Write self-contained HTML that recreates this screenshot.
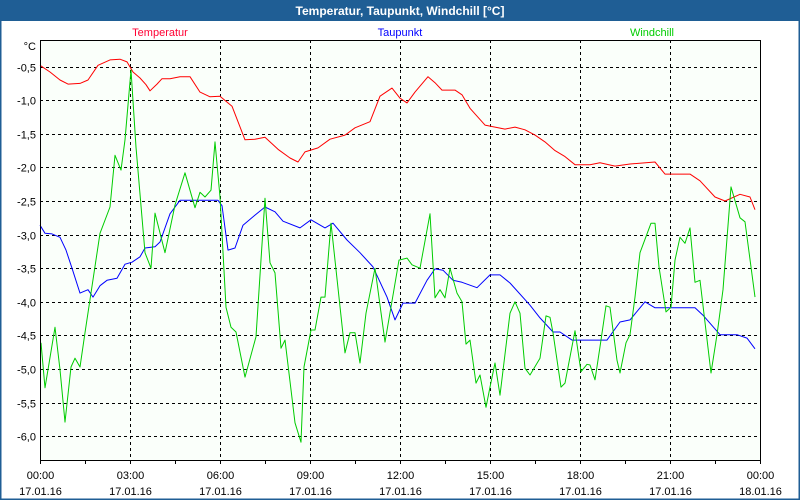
<!DOCTYPE html>
<html><head><meta charset="utf-8"><style>
html,body{margin:0;padding:0;background:#fff;}
#wrap{position:relative;width:800px;height:500px;overflow:hidden;font-family:"Liberation Sans",sans-serif;}
svg text{font-family:"Liberation Sans",sans-serif;}
</style></head><body>
<div id="wrap">
<svg id="chart" width="800" height="500" xmlns="http://www.w3.org/2000/svg">
<rect x="0" y="0" width="800" height="500" fill="#ffffff"/>
<rect x="0.5" y="0.5" width="799" height="499" fill="none" stroke="#1f5e95" stroke-width="2"/>
<rect x="0" y="0" width="800" height="21" fill="#1f5e95"/>
<text x="400" y="15" text-anchor="middle" font-size="12" font-weight="bold" fill="#ffffff">Temperatur, Taupunkt, Windchill [°C]</text>
<rect x="40" y="40" width="720" height="420" fill="#fafffa"/>
<g id="grid"></g>
<g id="series"></g>
<rect x="40.5" y="40.5" width="720" height="420" fill="none" stroke="#000" stroke-width="1"/>
<g id="axes"></g>
<text x="160" y="36" text-anchor="middle" font-size="11" fill="#ff0033">Temperatur</text>
<text x="400" y="36" text-anchor="middle" font-size="11" fill="#0000ff">Taupunkt</text>
<text x="652" y="36" text-anchor="middle" font-size="11" fill="#00cc00">Windchill</text>
<text x="36" y="50" text-anchor="end" font-size="11" fill="#000">°C</text>
</svg>
</div>
<script>
const yTicks = [-0.5,-1.0,-1.5,-2.0,-2.5,-3.0,-3.5,-4.0,-4.5,-5.0,-5.5,-6.0];
const yTickLabels = ["-0,5","-1,0","-1,5","-2,0","-2,5","-3,0","-3,5","-4,0","-4,5","-5,0","-5,5","-6,0"];
const xTicks = [0,180,360,540,720,900,1080,1260,1440];
const xTimeLabels = ["00:00","03:00","06:00","09:00","12:00","15:00","18:00","21:00","00:00"];
const xDateLabels = ["17.01.16","17.01.16","17.01.16","17.01.16","17.01.16","17.01.16","17.01.16","17.01.16","18.01.16"];
const tempMin = [0,20,40,56,80,96,116,140,160,174,186,200,212,220,234,244,260,280,300,320,340,360,384,410,430,450,476,500,516,530,556,580,610,630,660,680,704,720,734,750,776,790,804,830,844,860,890,910,930,950,970,990,1010,1030,1050,1070,1100,1120,1150,1180,1230,1250,1280,1300,1320,1350,1370,1400,1420,1430];
const tempVal = [-0.48,-0.58,-0.70,-0.76,-0.75,-0.70,-0.48,-0.40,-0.39,-0.43,-0.58,-0.67,-0.77,-0.86,-0.76,-0.68,-0.68,-0.65,-0.65,-0.88,-0.95,-0.94,-1.09,-1.59,-1.58,-1.55,-1.73,-1.86,-1.92,-1.77,-1.71,-1.58,-1.52,-1.41,-1.32,-0.94,-0.82,-0.97,-1.04,-0.88,-0.65,-0.74,-0.85,-0.85,-0.92,-1.12,-1.37,-1.40,-1.43,-1.40,-1.44,-1.52,-1.62,-1.75,-1.84,-1.96,-1.96,-1.93,-1.98,-1.95,-1.92,-2.10,-2.10,-2.10,-2.20,-2.44,-2.50,-2.40,-2.44,-2.63];
const dewMin = [0,10,24,40,52,64,80,96,106,120,134,154,170,184,200,210,230,240,260,280,310,356,364,376,390,406,430,450,470,486,520,542,570,586,614,640,666,694,710,726,750,774,790,806,826,844,874,900,920,940,980,1000,1026,1040,1064,1134,1160,1180,1210,1230,1310,1326,1360,1394,1414,1430];
const dewVal = [-2.86,-2.98,-2.99,-3.04,-3.23,-3.50,-3.87,-3.82,-3.93,-3.76,-3.68,-3.65,-3.44,-3.41,-3.33,-3.20,-3.18,-3.11,-2.69,-2.49,-2.49,-2.49,-2.57,-3.23,-3.20,-2.86,-2.71,-2.59,-2.66,-2.80,-2.90,-2.78,-2.90,-2.83,-3.08,-3.27,-3.48,-3.93,-4.27,-4.02,-4.02,-3.68,-3.51,-3.53,-3.68,-3.71,-3.79,-3.60,-3.60,-3.72,-4.05,-4.24,-4.45,-4.45,-4.57,-4.57,-4.30,-4.27,-4.00,-4.09,-4.09,-4.20,-4.49,-4.49,-4.54,-4.70];
const chillMin = [2,10,30,40,50,62,70,80,90,120,140,150,162,170,182,192,210,222,230,250,270,290,310,320,330,342,350,360,372,382,392,410,432,450,460,470,482,490,510,522,528,542,550,562,570,582,610,620,630,640,652,670,690,718,734,744,760,780,790,800,810,820,834,844,852,860,872,880,892,900,910,920,940,950,960,970,980,1000,1012,1020,1026,1042,1050,1070,1082,1094,1100,1110,1120,1132,1140,1154,1160,1172,1180,1190,1200,1222,1230,1238,1252,1262,1270,1280,1290,1300,1310,1320,1342,1354,1366,1382,1400,1410,1430];
const chillVal = [-4.61,-5.28,-4.38,-5.01,-5.79,-4.97,-4.84,-4.97,-4.46,-2.98,-2.59,-1.82,-2.04,-1.59,-0.55,-1.70,-3.27,-3.50,-2.68,-3.27,-2.56,-2.08,-2.60,-2.37,-2.44,-2.34,-1.62,-2.44,-4.08,-4.38,-4.45,-5.12,-4.52,-2.46,-3.42,-3.57,-4.69,-4.57,-5.80,-6.09,-4.97,-4.42,-4.42,-3.93,-3.93,-2.83,-4.76,-4.46,-4.46,-4.91,-4.17,-3.50,-4.60,-3.38,-3.35,-3.45,-3.50,-2.69,-3.94,-3.82,-3.94,-3.50,-3.87,-4.00,-4.63,-4.57,-5.21,-5.09,-5.57,-5.27,-4.91,-5.39,-4.17,-4.00,-4.17,-4.99,-5.09,-4.84,-4.21,-4.23,-4.46,-5.27,-5.21,-4.43,-5.04,-4.93,-4.94,-5.16,-4.67,-4.06,-4.08,-4.87,-5.06,-4.61,-4.49,-3.93,-3.27,-2.83,-2.83,-3.48,-4.15,-4.08,-3.38,-3.04,-3.13,-2.90,-3.71,-3.68,-5.06,-4.49,-3.82,-2.29,-2.75,-2.81,-3.93];

const NS = "http://www.w3.org/2000/svg";
const X0 = 40, X1 = 760, PT = 40, PB = 460;
function xScale(m){ return X0 + (m/1440)*(X1-X0); }
function yScale(v){ return 33 - v*67.2; }
function mk(tag, attrs, parent){ const e=document.createElementNS(NS,tag); for(const k in attrs) e.setAttribute(k,attrs[k]); parent.appendChild(e); return e; }

const grid = document.getElementById('grid');
const axes = document.getElementById('axes');
yTicks.forEach((v,i)=>{
  const y = Math.round(yScale(v))+0.5;
  const l = mk('line',{x1:X0,x2:X1,y1:y,y2:y,stroke:'#000','stroke-width':1,'stroke-dasharray':'3,3'},grid);
  
  
  const t = mk('text',{x:36,y:y+4,'text-anchor':'end','font-size':11,fill:'#000'},axes);
  t.textContent = yTickLabels[i];
  
  
});
xTicks.forEach((m,i)=>{
  const x = Math.round(xScale(m))+0.5;
  if(i>0 && i<xTicks.length-1){
    const l = mk('line',{x1:x,x2:x,y1:PT,y2:PB,stroke:'#000','stroke-width':1,'stroke-dasharray':'3,3'},grid);
    
    
  }
  const t1 = mk('text',{x:x,y:479,'text-anchor':'middle','font-size':11,fill:'#000'},axes);
  t1.textContent = xTimeLabels[i];
  
  
  const t2 = mk('text',{x:x,y:495,'text-anchor':'middle','font-size':11,fill:'#000'},axes);
  t2.textContent = xDateLabels[i];
  
  
});
for(let m=0;m<=1440;m+=90){
  const x = Math.round(xScale(m))+0.5;
  const tk = mk('line',{x1:x,x2:x,y1:PB,y2:PB+4,stroke:'#000','stroke-width':1},axes);
  
  
}
const ser = document.getElementById('series');
function drawLine(xs, ys, color, name){
  const pts = xs.map((m,i)=>xScale(m).toFixed(1)+','+yScale(ys[i]).toFixed(1)).join(' ');
  const p = mk('polyline',{points:pts,fill:'none',stroke:color,'stroke-width':1,'stroke-linejoin':'round'},ser);
  
  
}
drawLine(tempMin,tempVal,'#ff0000','temperatur-line');
drawLine(dewMin,dewVal,'#0000ff','taupunkt-line');
drawLine(chillMin,chillVal,'#00cc00','windchill-line');
</script>
</body></html>
